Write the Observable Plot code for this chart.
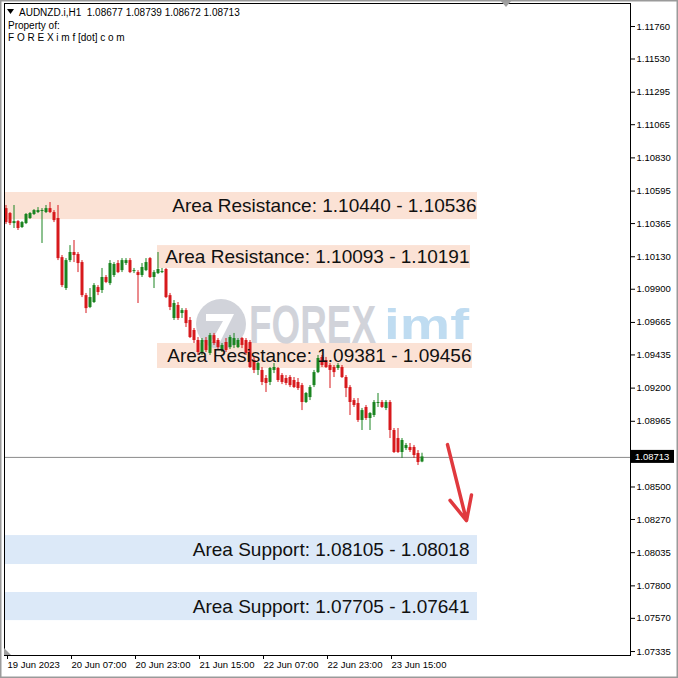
<!DOCTYPE html>
<html><head><meta charset="utf-8">
<script src="https://cdn.jsdelivr.net/npm/d3@7"></script>
<script src="https://cdn.jsdelivr.net/npm/@observablehq/plot@0.6"></script>
<style>body{margin:0;background:#fff;} svg{display:block}</style>
</head><body><div id="chart"></div>
<script>
// Hourly candles AUDNZD.i H1, 19 Jun 15:00 .. 23 Jun 23:00 (bar index 0..104)
const opens = [1.10471,1.10436,1.10365,1.10379,1.10337,1.10365,1.10401,1.10429,1.10443,1.10450,
1.10443,1.10471,1.10443,1.10401,1.10124,1.09905,1.10103,1.10160,1.10146,1.10089,
1.09855,1.09771,1.09806,1.09912,1.09891,1.09983,1.09940,1.09997,1.10082,1.10032,
1.10082,1.10103,1.10025,1.10018,1.09997,1.10032,1.10117,1.09983,1.10011,1.10018,
1.10040,1.09855,1.09693,1.09785,1.09728,1.09749,1.09679,1.09608,1.09537,1.09445,
1.09537,1.09445,1.09572,1.09537,1.09466,1.09523,1.09487,1.09502,1.09487,1.09551,
1.09537,1.09523,1.09395,1.09325,1.09325,1.09268,1.09240,1.09325,1.09339,1.09289,
1.09268,1.09275,1.09254,1.09240,1.09218,1.09098,1.09133,1.09218,1.09310,1.09417,
1.09395,1.09360,1.09346,1.09339,1.09346,1.09275,1.09204,1.09112,1.09091,1.08971,
1.09063,1.08985,1.09006,1.09091,1.09098,1.09056,1.09098,1.08900,1.08843,1.08744,
1.08772,1.08780,1.08780,1.08737,1.08677];
const highs = [1.10493,1.10443,1.10493,1.10386,1.10379,1.10436,1.10443,1.10464,1.10478,1.10471,
1.10493,1.10514,1.10457,1.10493,1.10139,1.10117,1.10209,1.10245,1.10160,1.10103,
1.09870,1.09905,1.09940,1.09926,1.10047,1.09997,1.10103,1.10089,1.10103,1.10117,
1.10117,1.10117,1.10047,1.10032,1.10082,1.10117,1.10124,1.10032,1.10160,1.10047,
1.10047,1.09870,1.09820,1.09806,1.09763,1.09763,1.09700,1.09622,1.09558,1.09551,
1.09558,1.09587,1.09587,1.09551,1.09516,1.09551,1.09572,1.09587,1.09551,1.09558,
1.09551,1.09537,1.09417,1.09381,1.09346,1.09289,1.09346,1.09374,1.09346,1.09303,
1.09289,1.09289,1.09275,1.09268,1.09233,1.09169,1.09218,1.09325,1.09431,1.09431,
1.09417,1.09374,1.09360,1.09374,1.09360,1.09289,1.09218,1.09126,1.09126,1.09056,
1.09077,1.09027,1.09112,1.09162,1.09112,1.09112,1.09112,1.08914,1.08914,1.08843,
1.08808,1.08808,1.08794,1.08758,1.08739];
const lows = [1.10358,1.10351,1.10330,1.10316,1.10330,1.10358,1.10394,1.10422,1.10436,1.10224,
1.10436,1.10436,1.10372,1.10103,1.09912,1.09891,1.10089,1.10089,1.10018,1.09841,
1.09728,1.09763,1.09799,1.09855,1.09870,1.09940,1.09926,1.09983,1.10011,1.10018,
1.10068,1.10011,1.10011,1.09799,1.09983,1.10025,1.09976,1.09905,1.10004,1.10011,
1.09834,1.09749,1.09679,1.09679,1.09693,1.09629,1.09551,1.09516,1.09431,1.09431,
1.09452,1.09431,1.09502,1.09473,1.09452,1.09452,1.09473,1.09480,1.09480,1.09480,
1.09431,1.09339,1.09303,1.09289,1.09218,1.09169,1.09218,1.09303,1.09240,1.09225,
1.09218,1.09204,1.09197,1.09183,1.09041,1.09091,1.09112,1.09204,1.09303,1.09346,
1.09339,1.09197,1.09275,1.09325,1.09268,1.09133,1.09006,1.09063,1.08957,1.08900,
1.08971,1.08900,1.08992,1.09063,1.09056,1.09041,1.08843,1.08737,1.08737,1.08702,
1.08758,1.08744,1.08702,1.08652,1.08672];
const closes = [1.10372,1.10365,1.10379,1.10330,1.10372,1.10429,1.10436,1.10457,1.10457,1.10457,
1.10471,1.10443,1.10386,1.10117,1.09926,1.10103,1.10160,1.10139,1.10082,1.09855,
1.09763,1.09841,1.09926,1.09877,1.09983,1.09948,1.10082,1.10075,1.10018,1.10103,
1.10103,1.10018,1.10032,1.09997,1.10054,1.10089,1.09983,1.10018,1.10040,1.10025,
1.09841,1.09771,1.09799,1.09693,1.09749,1.09657,1.09558,1.09537,1.09452,1.09537,
1.09466,1.09572,1.09516,1.09487,1.09502,1.09466,1.09558,1.09551,1.09537,1.09502,
1.09445,1.09346,1.09325,1.09374,1.09240,1.09233,1.09339,1.09346,1.09254,1.09240,
1.09233,1.09218,1.09204,1.09197,1.09098,1.09162,1.09204,1.09310,1.09410,1.09360,
1.09346,1.09325,1.09310,1.09360,1.09275,1.09197,1.09098,1.09077,1.08971,1.09041,
1.08985,1.09020,1.09098,1.09098,1.09063,1.09098,1.08900,1.08744,1.08744,1.08829,
1.08794,1.08758,1.08723,1.08673,1.08713];

const timeTickBars = [0, 16, 32, 48, 64, 80, 96];
const timeTickLabels = ["19 Jun 2023","20 Jun 07:00","20 Jun 23:00","21 Jun 15:00","22 Jun 07:00","22 Jun 23:00","23 Jun 15:00"];
const priceTicks = [1.11760,1.11530,1.11295,1.11065,1.10830,1.10595,1.10365,1.10130,1.09900,1.09665,
1.09435,1.09200,1.08965,1.08500,1.08270,1.08035,1.07800,1.07570,1.07335];

// zones (drawn extents) and their captions
const zoneTypes  = ["res","res","res","sup","sup"];
const zoneLow    = [1.10393,1.10047,1.09339,1.07951,1.07554];
const zoneHigh   = [1.10585,1.10209,1.09516,1.08156,1.07753];
const zoneStart  = [-0.25, 38, 38, -0.25, -0.25];
const zoneEnd    = [118, 116.25, 116.75, 118, 118];
const zoneLabels = ["Area Resistance: 1.10440 - 1.10536","Area Resistance: 1.10093 - 1.10191",
  "Area Resistance: 1.09381 - 1.09456","Area Support: 1.08105 - 1.08018","Area Support: 1.07705 - 1.07641"];

const arrowFrom = {bar: 110.5, price: 1.08800};
const arrowTo   = {bar: 115.25, price: 1.08262};

const lastPrice = closes[closes.length - 1];

const candles = opens.map((o, i) => ({i, o, h: highs[i], l: lows[i], c: closes[i]}));
const zones = zoneTypes.map((t, k) => ({t, low: zoneLow[k], high: zoneHigh[k], start: zoneStart[k], end: zoneEnd[k], label: zoneLabels[k]}));

const UP = "#1a8420", DOWN = "#d7191c";
const col = d => d.c > d.o ? UP : DOWN;
const FONT = "'Liberation Sans', Arial, sans-serif";

const chart = Plot.plot({
  width: 678, height: 678,
  marginLeft: 4, marginRight: 48, marginTop: 3, marginBottom: 23,
  style: {background: "#fff", fontFamily: FONT},
  x: {domain: [-0.25, 156.25], axis: null},
  y: {domain: [1.07307, 1.11923], axis: null},
  marks: [
    Plot.rect(zones, {x1: "start", x2: "end", y1: "low", y2: "high",
      fill: d => d.t === "res" ? "#fbe2d5" : "#dce9f8"}),
    Plot.ruleY([lastPrice], {stroke: "#8a8a8a", strokeWidth: 1, dy: 0.5}),
    Plot.ruleX(candles, {x: "i", y1: "l", y2: "h", stroke: col, strokeWidth: 1, dx: 0.5}),
    Plot.ruleX(candles, {x: "i", y1: "o", y2: "c", stroke: col, strokeWidth: 3, dx: 0.5}),
    Plot.text(zones.filter(z => z.t === "res"), {x: "end", y: d => (d.low + d.high) / 2, text: "label", textAnchor: "end",
      dx: -1, fontSize: 19, fill: "#111"}),
    Plot.text(zones.filter(z => z.t === "sup"), {x: "end", y: d => (d.low + d.high) / 2, text: "label", textAnchor: "end",
      dx: -8, fontSize: 19, fill: "#111"}),
    Plot.arrow([0], {x1: () => arrowFrom.bar, y1: () => arrowFrom.price, x2: () => arrowTo.bar, y2: () => arrowTo.price,
      stroke: "#e0393e", strokeWidth: 3.5, headLength: 16, headAngle: 50}),
    Plot.frame({stroke: "#000"}),
    Plot.axisX(timeTickBars, {anchor: "bottom", tickSize: 4, tickPadding: 2, textAnchor: "start", dx: 2,
      tickFormat: (d) => timeTickLabels[timeTickBars.indexOf(d)], fontSize: 9.5, fill: "#000"}),
    Plot.axisY(priceTicks, {anchor: "right", tickSize: 4, tickPadding: 2, tickFormat: d => d.toFixed(5),
      fontSize: 9.5, fill: "#000"})
  ]
});
document.getElementById("chart").appendChild(chart);

const svg = d3.select(chart);
const ys = chart.scale("y"), xs = chart.scale("x");
// watermark (behind candles): insert right after the zone rectangles
const groups = chart.querySelectorAll(":scope > g");
const wmNode = document.createElementNS("http://www.w3.org/2000/svg", "g");
chart.insertBefore(wmNode, groups[1] || null);
const wm = d3.select(wmNode).attr("opacity", 0.85).attr("text-anchor", "start");
const cx = xs.apply(54), cy = ys.apply(1.09650);
wm.append("circle").attr("cx", cx).attr("cy", cy).attr("r", 25).attr("fill", "#c9ccd4");
wm.append("path").attr("d", `M${cx-15},${cy-10} h28 l-14,28 h-9 l12,-21 h-17 z`).attr("fill", "#fff");
wm.append("text").attr("x", cx + 28).attr("y", cy + 19).attr("font-size", 54).attr("font-weight", "bold")
  .attr("textLength", 127).attr("lengthAdjust", "spacingAndGlyphs")
  .attr("font-family", FONT).attr("fill", "#c9ccd4").text("FOREX");
wm.append("text").attr("x", cx + 163).attr("y", cy + 15).attr("font-size", 42).attr("font-weight", "bold")
  .attr("textLength", 85).attr("lengthAdjust", "spacingAndGlyphs")
  .attr("font-family", FONT).attr("fill", "#b5d6ef").text("imf");

// header text
const hdr = svg.append("g").attr("font-family", FONT).attr("font-size", 10).attr("fill", "#000").attr("text-anchor", "start");
hdr.append("path").attr("d", "M7,9 h7 l-3.5,5 z").attr("fill", "#000");
hdr.append("text").attr("x", 19).attr("y", 16).text("AUDNZD.i,H1  " + [opens.at(-1), highs.at(-1), lows.at(-1), closes.at(-1)].map(v => v.toFixed(5)).join(" "));
hdr.append("text").attr("x", 8).attr("y", 29).text("Property of:");
hdr.append("text").attr("x", 8).attr("y", 41).text("F O R E X i m f [dot] c o m");

// last price tag
const ly = ys.apply(lastPrice);
svg.append("rect").attr("x", 631).attr("y", ly - 6.5).attr("width", 43).attr("height", 13).attr("fill", "#000");
svg.append("text").attr("x", 635).attr("y", ly + 3.5).attr("font-size", 9.5).attr("fill", "#fff").attr("text-anchor", "start")
  .attr("font-family", FONT).text(lastPrice.toFixed(5));

// shift markers and outer border
svg.append("path").attr("d", "M500,0 h12 l-6,7 z").attr("fill", "#a0a0a0");
svg.append("path").attr("d", "M4,648 v7 h7 z").attr("fill", "#a0a0a0");
svg.append("rect").attr("x", 0.5).attr("y", 0.5).attr("width", 677).attr("height", 677).attr("fill", "none").attr("stroke", "#9a9a9a").attr("stroke-width", 2);
</script></body></html>
